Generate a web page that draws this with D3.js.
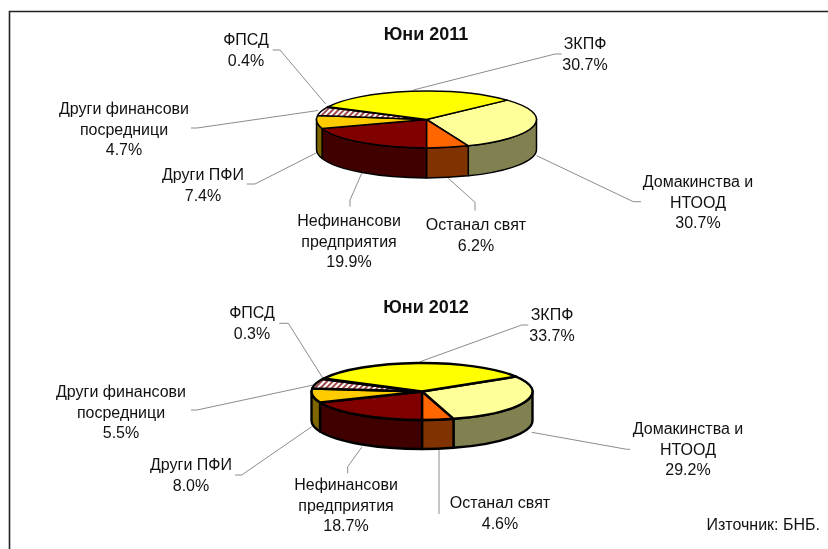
<!DOCTYPE html>
<html><head><meta charset="utf-8">
<script src="https://cdn.jsdelivr.net/npm/d3@7/dist/d3.min.js"></script>
<style>html,body{margin:0;padding:0;background:#fff}svg{display:block;filter:blur(0.35px)}text{font-family:"Liberation Sans",Arial,sans-serif;fill:#111}</style>
</head><body><div id="c"></div>
<script>
const categories = ["Домакинства и\nНТООД","Останал свят","Нефинансови\nпредприятия","Други ПФИ","Други финансови\nпосредници","ФПСД","ЗКПФ"];
const values2011 = [30.7,6.2,19.9,7.4,4.7,0.4,30.7];
const values2012 = [29.2,4.6,18.7,8.0,5.5,0.3,33.7];
const labels2011 = ["30.7%","6.2%","19.9%","7.4%","4.7%","0.4%","30.7%"];
const labels2012 = ["29.2%","4.6%","18.7%","8.0%","5.5%","0.3%","33.7%"];
const topColors  = ["#FFFF99","#FF6600","#800000","#FFCC00","url(#hatch)","#FFFFFF","#FFFF00"];
const sideColors = ["#808050","#803300","#400000","#806600","#806060","#808080","#808000"];

const W=828,H=549;
const svg=d3.select("#c").append("svg").attr("width",W).attr("height",H);
const defs=svg.append("defs");
const pat=defs.append("pattern").attr("id","hatch").attr("width",4).attr("height",4)
  .attr("patternUnits","userSpaceOnUse").attr("patternTransform","rotate(45)");
pat.append("rect").attr("width",4).attr("height",4).attr("fill","#fff");
pat.append("rect").attr("width",2).attr("height",4).attr("fill","#A04848");

// frame
svg.append("path").attr("d",`M9.5,${H}V11.5H${W}`).attr("fill","none").attr("stroke","#222").attr("stroke-width",1.6);

const layouts=[
 {title:"Юни 2011",titleY:40,cx:426.5,cy:119.5,rx:110,ry:28.5,depth:30,sw:1.5,values:values2011,labels:labels2011,
  pos:[[698,181],[476,224],[349,220],[203,174],[124,108],[246,39],[585,43]],
  lead:[[[536.7,155.7],[633.3,201.7],[641,201.7]],[[448.3,178.3],[475,202.3],[475,210.7]],[[361.7,173.3],[350,200],[350,206.7]],[[316.7,152.7],[255,184],[246.7,184]],[[318,110.5],[197,128],[191,128]],[[325.7,104],[280,50],[272.7,50]],[[413.3,90],[555,54],[561.7,54]]]},
 {title:"Юни 2012",titleY:313,cx:422,cy:391.5,rx:110.5,ry:28.5,depth:29,sw:2.4,values:values2012,labels:labels2012,
  pos:[[688,428],[500,502],[346,484],[191,464],[121,391],[252,312],[552,314]],
  lead:[[[531.7,432.3],[626.7,449.3],[630,449.3]],[[439,450],[439,514]],[[361.7,447.3],[347.7,466.7],[347.7,473.3]],[[311.7,426.7],[241.7,475],[235,475]],[[313.3,385],[197,410],[191,410]],[[322.3,377.3],[288.3,323.3],[279.3,323.3]],[[420,361.7],[521.7,325],[528.3,325]]]}
];

function ell(l,a){return [l.cx+l.rx*Math.sin(a), l.cy-l.ry*Math.cos(a)];}
const leadLine=d3.line();

layouts.forEach(l=>{
  const total=d3.sum(l.values);
  // the pie is rotated so that the third slice starts straight at the front
  const before=(l.values[0]+l.values[1])/total*2*Math.PI;
  const start=Math.PI-before;
  const arcs=d3.pie().sort(null).startAngle(start).endAngle(start+2*Math.PI)(l.values);
  const g=svg.append("g");

  // leader lines
  g.selectAll("path.lead").data(l.lead).join("path").attr("class","lead")
    .attr("d",leadLine).attr("fill","none")
    .attr("stroke","#8c8c8c").attr("stroke-width",1);

  // side walls (front half only)
  const front0=Math.PI/2, front1=3*Math.PI/2;
  const sides=arcs.map((d,i)=>{
    const a0=Math.max(d.startAngle,front0), a1=Math.min(d.endAngle,front1);
    return {i,a0,a1};
  }).filter(s=>s.a1>s.a0);
  g.selectAll("path.side").data(sides).join("path").attr("class","side")
    .attr("d",s=>{
      const p0=ell(l,s.a0),p1=ell(l,s.a1);
      return `M${p0[0]},${p0[1]}A${l.rx},${l.ry} 0 0 1 ${p1[0]},${p1[1]}`+
        `L${p1[0]},${p1[1]+l.depth}A${l.rx},${l.ry} 0 0 0 ${p0[0]},${p0[1]+l.depth}Z`;
    })
    .attr("fill",s=>sideColors[s.i]).attr("stroke","#000").attr("stroke-width",l.sw).attr("stroke-linejoin","round");

  // top faces
  g.selectAll("path.top").data(arcs).join("path").attr("class","top")
    .attr("d",d=>{
      const p0=ell(l,d.startAngle),p1=ell(l,d.endAngle);
      const large=(d.endAngle-d.startAngle)>Math.PI?1:0;
      return `M${l.cx},${l.cy}L${p0[0]},${p0[1]}A${l.rx},${l.ry} 0 ${large} 1 ${p1[0]},${p1[1]}Z`;
    })
    .attr("fill",(d,i)=>topColors[i]).attr("stroke","#000").attr("stroke-width",l.sw).attr("stroke-linejoin","round");

  // title
  g.append("text").attr("x",426).attr("y",l.titleY).attr("text-anchor","middle")
    .attr("font-size",18).attr("font-weight","bold").text(l.title);

  // labels
  categories.forEach((c,i)=>{
    const lines=c.split("\n").concat(l.labels[i]);
    const t=g.append("text").attr("text-anchor","middle").attr("font-size",16);
    lines.forEach((s,k)=>t.append("tspan").attr("x",l.pos[i][0]).attr("y",l.pos[i][1]+6+k*20.5).text(s));
  });
});

svg.append("text").attr("x",820).attr("y",530).attr("text-anchor","end").attr("font-size",16).text("Източник: БНБ.");
</script></body></html>
